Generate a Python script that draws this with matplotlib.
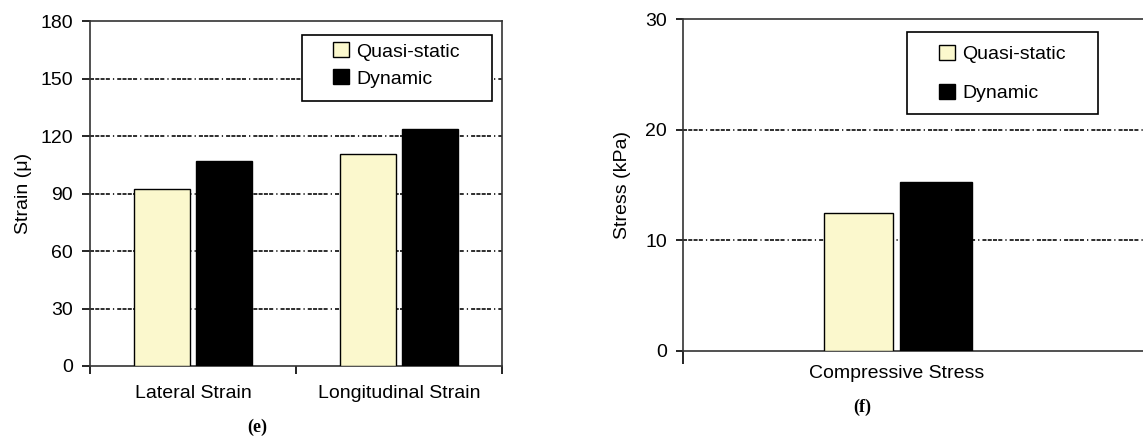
import matplotlib
matplotlib.use("Agg")
import matplotlib.pyplot as plt
from matplotlib.patches import Rectangle

plt.rcParams['font.family'] = ['Liberation Sans', 'DejaVu Sans']
plt.rcParams['lines.scale_dashes'] = False

# data
strain_cats = ['Lateral Strain', 'Longitudinal Strain']
strain_quasi = [92.5, 110.5]
strain_dyn = [107, 123.5]
stress_cats = ['Compressive Stress']
stress_quasi = [12.5]
stress_dyn = [15.3]
series_names = ['Quasi-static', 'Dynamic']

yellow = '#fbf8cd'
grid_dash = (0, (2.9, 0.9, 2.9, 0.9, 2.9, 0.9, 2.9, 2.2, 0.9, 2.2))
fs = 14

fig = plt.figure(figsize=(11.43, 4.36), dpi=100)

# ---- (e) strain
ax1 = fig.add_axes([90/1143, 1-366/436, 412/1143, 345/436])
x = list(range(len(strain_cats)))
ax1.bar([i - 0.15 for i in x], strain_quasi, width=0.27, color=yellow,
        edgecolor='black', linewidth=1.0, zorder=3, label=series_names[0])
ax1.bar([i + 0.15 for i in x], strain_dyn, width=0.27, color='black',
        edgecolor='black', linewidth=1.0, zorder=3, label=series_names[1])
ax1.set_xlim(-0.5, len(strain_cats) - 0.5)
ax1.set_ylim(0, 180)
ax1.set_yticks(range(0, 181, 30))
for v in range(30, 180, 30):
    ax1.axhline(v, color='black', lw=1.15, linestyle=grid_dash, zorder=1)
ax1.set_xticks([-0.5, 0.5, 1.5])
ax1.set_xticklabels([])
ax1.set_xticks(x, minor=True)
ax1.set_xticklabels(strain_cats, minor=True, fontsize=fs)
ax1.tick_params(axis='x', which='minor', length=0, pad=14)
ax1.tick_params(axis='x', which='major', direction='out', length=6, width=1.2)
ax1.tick_params(axis='y', direction='out', length=5.8, width=1.2, labelsize=fs, pad=6.5)
ax1.set_ylabel('Strain (\u03bc)', fontsize=fs, labelpad=6)
# legend frame drawn as its own box
ax1.add_patch(Rectangle((0.515, 0.768), 0.461, 0.191, transform=ax1.transAxes,
                        facecolor='white', edgecolor='black', linewidth=1.2, zorder=4))
leg = ax1.legend(loc='upper left', bbox_to_anchor=(0.59, 0.938), frameon=False,
                 fontsize=fs, handlelength=0.8, handleheight=0.8, handletextpad=0.4,
                 labelspacing=0.45, borderpad=0, borderaxespad=0)
leg.set_zorder(5)
for s in ax1.spines.values():
    s.set_linewidth(1.2)
    s.set_color('#333333')
fig.text(257/1143, 1-427/436, '(e)', family='Liberation Serif', fontweight='bold',
         fontsize=13, ha='center', va='center')

# ---- (f) stress
ax2 = fig.add_axes([683/1143, 1-350.7/436, 494/1143, 331.4/436])
ax2.bar([-0.09], stress_quasi, width=0.163, color=yellow, edgecolor='black',
        linewidth=1.0, zorder=3, label=series_names[0])
ax2.bar([0.09], stress_dyn, width=0.168, color='black', edgecolor='black',
        linewidth=1.0, zorder=3, label=series_names[1])
ax2.set_xlim(-0.5, 0.654)
ax2.set_ylim(0, 30)
ax2.set_yticks([0, 10, 20, 30])
for v in [10, 20]:
    ax2.axhline(v, color='black', lw=1.15, linestyle=grid_dash, zorder=1)
ax2.set_xticks([-0.5])
ax2.set_xticklabels([])
ax2.set_xticks([0], minor=True)
ax2.set_xticklabels(stress_cats, minor=True, fontsize=fs)
ax2.tick_params(axis='x', which='minor', length=0, pad=10)
ax2.tick_params(axis='x', which='major', direction='out', length=9, width=1.2)
ax2.tick_params(axis='y', direction='out', length=5, width=1.2, labelsize=fs, pad=6.5)
ax2.set_ylabel('Stress (kPa)', fontsize=fs, labelpad=10)
ax2.add_patch(Rectangle((224/494, 1 - 95/331.4), 191/494, 82/331.4, transform=ax2.transAxes,
                        facecolor='white', edgecolor='black', linewidth=1.2, zorder=4))
leg2 = ax2.legend(loc='upper left', bbox_to_anchor=(256/494, 1 - 26/331.4), frameon=False,
                  fontsize=fs, handlelength=0.8, handleheight=0.8, handletextpad=0.4,
                  labelspacing=1.05, borderpad=0, borderaxespad=0)
leg2.set_zorder(5)
for s in ax2.spines.values():
    s.set_linewidth(1.2)
    s.set_color('#333333')
fig.text(862/1143, 1-407/436, '(f)', family='Liberation Serif', fontweight='bold',
         fontsize=13, ha='center', va='center')

fig.savefig('out.png', dpi=100)
